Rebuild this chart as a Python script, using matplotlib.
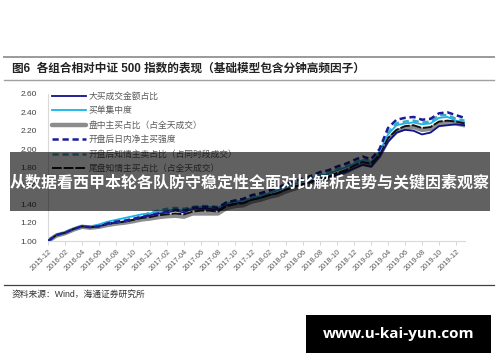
import matplotlib
matplotlib.use("Agg")
import matplotlib.pyplot as plt
from matplotlib.lines import Line2D
from matplotlib.patches import Rectangle

plt.rcParams['font.family'] = ['Liberation Sans', 'Noto Sans CJK SC']

# month index 0 = 2015-12 ... 49 = 2020-01
months = list(range(50))
tick_pos = list(range(0, 49, 2))
tick_labels = [f"{2015 + (11 + m) // 12}-{(11 + m) % 12 + 1:02d}" for m in tick_pos]

labels = [
    "大买成交金额占比",
    "买单集中度",
    "盘中主买占比（占全天成交）",
    "开盘后日内净主买强度",
    "开盘后知情主卖占比（占同时段成交）",
    "尾盘知情主买占比（占全天成交）",
]

big_buy = [1.00, 1.065, 1.09, 1.13, 1.16, 1.15, 1.16, 1.185, 1.20, 1.21, 1.23, 1.26,
           1.28, 1.30, 1.31, 1.33, 1.31, 1.35, 1.35, 1.35, 1.34, 1.39, 1.41, 1.42,
           1.45, 1.47, 1.50, 1.52, 1.56, 1.59, 1.62, 1.64, 1.67, 1.69, 1.72, 1.75,
           1.79, 1.83, 1.81, 1.92, 2.08, 2.18, 2.21, 2.20, 2.16, 2.18, 2.25, 2.26, 2.27, 2.26]
buy_conc = [1.00, 1.065, 1.09, 1.13, 1.16, 1.16, 1.18, 1.21, 1.23, 1.25, 1.27, 1.29,
            1.30, 1.32, 1.33, 1.34, 1.33, 1.36, 1.37, 1.37, 1.36, 1.41, 1.43, 1.44,
            1.47, 1.49, 1.52, 1.55, 1.59, 1.62, 1.65, 1.68, 1.71, 1.73, 1.77, 1.80,
            1.84, 1.88, 1.86, 1.97, 2.16, 2.26, 2.28, 2.29, 2.27, 2.28, 2.34, 2.35, 2.31, 2.29]
intraday_buy = [1.00, 1.06, 1.085, 1.125, 1.155, 1.145, 1.155, 1.175, 1.19, 1.20, 1.215, 1.235,
                1.245, 1.26, 1.27, 1.275, 1.265, 1.30, 1.30, 1.30, 1.30, 1.36, 1.38, 1.39,
                1.43, 1.45, 1.48, 1.50, 1.54, 1.57, 1.60, 1.63, 1.66, 1.68, 1.72, 1.75,
                1.80, 1.84, 1.82, 1.93, 2.10, 2.19, 2.23, 2.24, 2.21, 2.22, 2.28, 2.29, 2.28, 2.26]
open_net = [1.00, 1.065, 1.09, 1.13, 1.16, 1.15, 1.16, 1.19, 1.21, 1.22, 1.24, 1.26,
            1.28, 1.30, 1.32, 1.34, 1.33, 1.36, 1.37, 1.37, 1.36, 1.42, 1.44, 1.46,
            1.50, 1.52, 1.55, 1.58, 1.62, 1.65, 1.68, 1.71, 1.75, 1.77, 1.81, 1.84,
            1.88, 1.92, 1.89, 2.00, 2.23, 2.32, 2.34, 2.35, 2.32, 2.33, 2.39, 2.40, 2.37, 2.34]
open_sell = [1.00, 1.065, 1.09, 1.13, 1.16, 1.155, 1.165, 1.19, 1.21, 1.22, 1.24, 1.27,
             1.31, 1.33, 1.35, 1.36, 1.35, 1.37, 1.38, 1.38, 1.37, 1.42, 1.44, 1.45,
             1.48, 1.50, 1.53, 1.56, 1.60, 1.63, 1.66, 1.69, 1.72, 1.74, 1.78, 1.81,
             1.85, 1.89, 1.87, 1.98, 2.18, 2.28, 2.30, 2.31, 2.29, 2.30, 2.37, 2.37, 2.33, 2.31]
close_buy = [1.00, 1.065, 1.09, 1.13, 1.16, 1.15, 1.16, 1.185, 1.20, 1.21, 1.23, 1.25,
             1.26, 1.28, 1.29, 1.30, 1.29, 1.32, 1.33, 1.33, 1.32, 1.38, 1.40, 1.41,
             1.45, 1.47, 1.50, 1.52, 1.56, 1.59, 1.62, 1.65, 1.68, 1.70, 1.74, 1.77,
             1.82, 1.86, 1.84, 1.95, 2.12, 2.21, 2.25, 2.26, 2.23, 2.24, 2.30, 2.31, 2.30, 2.28]

fig = plt.figure(figsize=(5, 3.62), dpi=100)
W, H = 500, 362


def fx(px):
    return px / W


def fy(py):
    return (H - py) / H


ax = fig.add_axes([fx(48), fy(241), fx(464.5) - fx(48), fy(94) - fy(241)])

h3, = ax.plot(months, intraday_buy, color="#8c8c8c", lw=3.2, zorder=2, solid_capstyle="round")
h1, = ax.plot(months, big_buy, color="#10108c", lw=1.3, zorder=3)
h2, = ax.plot(months, buy_conc, color="#14b4ec", lw=1.3, zorder=3)
h6, = ax.plot(months, close_buy, color="#111111", lw=1.4, ls=(0, (5, 1)), zorder=4)
h5, = ax.plot(months, open_sell, color="#3fa9c9", lw=1.8, ls=(0, (2.5, 1.5)), zorder=5)
h4, = ax.plot(months, open_net, color="#1a1a9a", lw=1.8, ls=(0, (2.5, 1.5)), zorder=6)

ax.set_xlim(0, 49)
ax.set_ylim(1.0, 2.6)
ax.set_yticks([1.0 + 0.2 * i for i in range(9)])
ax.set_yticklabels([f"{1.0 + 0.2 * i:.2f}" for i in range(9)])
ax.set_xticks(tick_pos)
ax.set_xticklabels(tick_labels, rotation=45, ha="right", va="top", rotation_mode="anchor")
ax.tick_params(axis="y", length=0, pad=8, labelsize=6, labelcolor="#404040")
ax.tick_params(axis="x", length=3, width=0.6, color="#d0d0d0", pad=2, labelsize=5.3, labelcolor="#595959")
for s in ["top", "right"]:
    ax.spines[s].set_visible(False)
for s in ["left", "bottom"]:
    ax.spines[s].set_color("#d9d9d9")
    ax.spines[s].set_linewidth(0.8)

leg = ax.legend([h1, h2, h3, h4, h5, h6], labels, loc="upper left",
                bbox_to_anchor=(fx(52), fy(92)), bbox_transform=fig.transFigure,
                frameon=False, fontsize=6.3, handlelength=3.85, handletextpad=0.3,
                labelspacing=0.62, borderpad=0, borderaxespad=0)
for t in leg.get_texts():
    t.set_color("#5a5a5a")

# header / footer rules
fig.add_artist(Line2D([fx(4), fx(494)], [fy(57), fy(57)], color="#9a9a9a", lw=1.4))
fig.add_artist(Line2D([fx(4), fx(494)], [fy(80), fy(80)], color="#a0a0a0", lw=1.0))
fig.add_artist(Line2D([fx(4), fx(494)], [fy(285), fy(285)], color="#404040", lw=0.9))

fig.text(fx(12), fy(68.5), "图6  各组合相对中证 500 指数的表现（基础模型包含分钟高频因子）",
         fontsize=8.4, fontweight="bold", color="#222222", va="center", ha="left")
fig.text(fx(12), fy(294), "资料来源：Wind，海通证券研究所", fontsize=6.3,
         color="#333333", va="center", ha="left")

# dark banner overlay
fig.add_artist(Rectangle((fx(10), fy(211)), fx(490) - fx(10), fy(152) - fy(211),
                         transform=fig.transFigure, facecolor="black", alpha=0.62,
                         edgecolor="none", zorder=10))
fig.text(fx(250), fy(182), "从数据看西甲本轮各队防守稳定性全面对比解析走势与关键因素观察",
         fontsize=11.5, fontweight="bold", color="white", ha="center", va="center",
         zorder=11, family=["Noto Sans CJK SC", "DejaVu Sans"])

# watermark box
fig.add_artist(Rectangle((fx(306), fy(353)), fx(491) - fx(306), fy(315) - fy(353),
                         transform=fig.transFigure, facecolor="black",
                         edgecolor="none", zorder=10))
fig.text(fx(398.5), fy(334), "www.u-kai-yun.com", fontsize=11, fontweight="bold",
         color="white", ha="center", va="center", zorder=11, family="Open Sans")

fig.savefig("out.png", dpi=100)
